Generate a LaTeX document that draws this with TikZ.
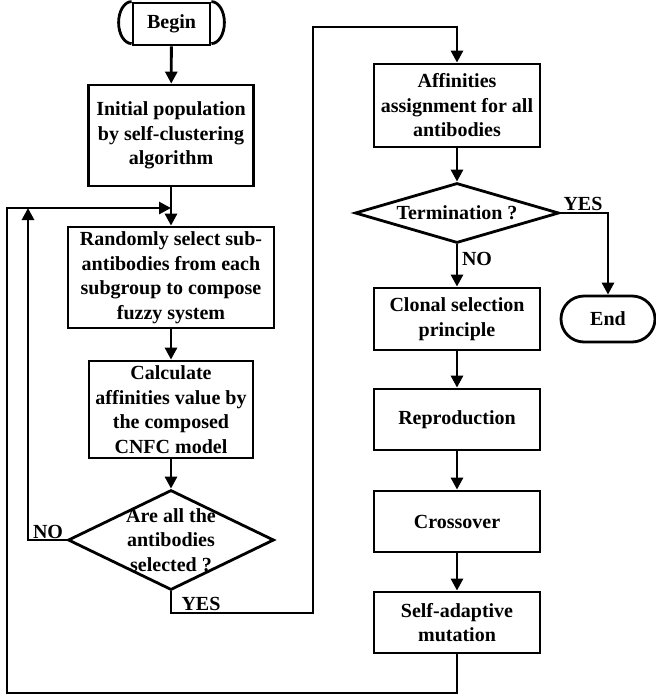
\documentclass[tikz,border=0pt]{standalone}
\usepackage{fontspec}
\setmainfont{Liberation Serif}
\usetikzlibrary{arrows.meta,shapes.geometric,shapes.misc}
\begin{document}
\begin{tikzpicture}[x=1pt,y=-1pt,
  every node/.style={font=\fontsize{20}{24.5}\selectfont\bfseries},
  box/.style={draw,line width=2.8pt,rectangle,inner sep=0pt,align=center},
  dia/.style={draw,line width=2.8pt,diamond,inner sep=0pt},
  term/.style={draw,line width=2.8pt,rounded rectangle,inner sep=0pt},
  line/.style={line width=2.8pt},
  arr/.style={line width=2.8pt,-{Triangle[length=12pt,width=12pt]}},
  lbl/.style={inner sep=0pt}]
\useasboundingbox (0,0) rectangle (656,697);
% nodes
\node[box,minimum width=77pt,minimum height=42pt] (begin) at (171.5,24) {Begin};
\draw[line] (begin.north west) arc[start angle=90,end angle=270,x radius=13pt,y radius=21pt];
\draw[line] (begin.north east) arc[start angle=90,end angle=-90,x radius=13pt,y radius=21pt];
\node[box,minimum width=165pt,minimum height=101pt] (init) at (171,135.5) {Initial population\\by self-clustering\\algorithm};
\node[box,minimum width=206pt,minimum height=101pt] (rand) at (171,277.5) {Randomly select sub-\\antibodies from each\\subgroup to compose\\fuzzy system};
\node[box,minimum width=164pt,minimum height=97pt] (calc) at (171,409.5) {Calculate\\affinities value by\\the composed\\CNFC model};
\node[dia,minimum width=206pt,minimum height=100pt] (sel) at (171,540) {};
\node[align=center] (seltxt) at (171,540) {Are all the\\antibodies\\selected ?};
\node[box,minimum width=166pt,minimum height=83pt] (aff) at (457,105.5) {Affinities\\assignment for all\\antibodies};
\node[dia,minimum width=204pt,minimum height=60pt] (term) at (457,213) {};
\node (termtxt) at (457,213) {Termination ?};
\node[box,minimum width=166pt,minimum height=62pt] (clon) at (457,319) {Clonal selection\\principle};
\node[box,minimum width=166pt,minimum height=61pt] (rep) at (457,419.5) {Reproduction};
\node[box,minimum width=166pt,minimum height=61pt] (cross) at (457,521.5) {Crossover};
\node[box,minimum width=166pt,minimum height=61pt] (mut) at (457,622.5) {Self-adaptive\\mutation};
\node[term,minimum width=94pt,minimum height=46pt] (end) at (608,319) {End};
% coordinates
\coordinate (j) at (171,208);
% connectors
\draw[arr] (begin) -- (init);
\draw[arr] (init) -- (rand);
\draw[arr] (rand) -- (calc);
\draw[arr] (calc) -- (sel);
\draw[arr] (sel.west) -- (28,540) -- (28,208);
\draw[arr] (mut.south) -- (457,693) -- (7,693) -- (7,208) -- (j);
\draw[arr] (sel.south) -- (171,613) -- (313,613) -- (313,27) -- (457,27) -- (aff.north);
\draw[arr] (aff) -- (term);
\draw[arr] (term.east) -- (608,213) -- (end.north);
\draw[arr] (term) -- (clon);
\draw[arr] (clon) -- (rep);
\draw[arr] (rep) -- (cross);
\draw[arr] (cross) -- (mut);
% labels
\node[lbl] (no1) at (48,532) {NO};
\node[lbl] (yes1) at (201,604) {YES};
\node[lbl] (yes2) at (583,204) {YES};
\node[lbl] (no2) at (477,259) {NO};
\end{tikzpicture}
\end{document}
